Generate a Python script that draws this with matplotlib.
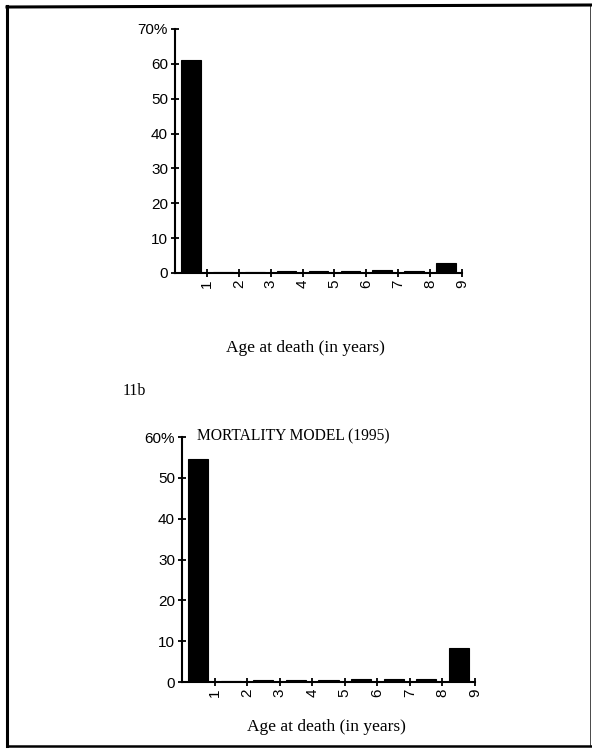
import numpy as np
import matplotlib
matplotlib.use("Agg")
import matplotlib.pyplot as plt
from matplotlib.lines import Line2D

# age categories (years) and share of deaths (%)
ages = ["1", "2", "3", "4", "5", "6", "7", "8", "9"]
deaths_top = [61.0, 0.4, 0.4, 0.5, 0.6, 0.7, 0.8, 0.5, 2.8]
deaths_bottom = [54.5, 0.3, 0.4, 0.5, 0.6, 0.7, 0.8, 0.8, 8.4]
yticks_top = [0, 10, 20, 30, 40, 50, 60, 70]
yticks_bottom = [0, 10, 20, 30, 40, 50, 60]

sans = "Liberation Sans"
serif = "Liberation Serif"

fig = plt.figure(figsize=(5.92, 7.49), dpi=100)


def draw_panel(rect, values, yticks):
    ax = fig.add_axes(rect)
    x = np.arange(len(ages)) + 0.5
    ax.bar(x, values, width=0.62, color="black", edgecolor="black", linewidth=0.8)
    ax.set_xlim(0, len(ages))
    ax.set_ylim(0, yticks[-1])
    ax.set_xticks(np.arange(1, len(ages) + 1))
    ax.set_xticklabels(ages, rotation=90, fontfamily=sans, fontsize=11)
    ax.set_yticks(yticks)
    ylabels = [str(v) for v in yticks]
    ylabels[-1] = ylabels[-1] + "%"
    ax.set_yticklabels(ylabels, fontfamily=sans, fontsize=11)
    for s in ["top", "right"]:
        ax.spines[s].set_visible(False)
    for s in ["left", "bottom"]:
        ax.spines[s].set_linewidth(1.5)
    ax.tick_params(direction="inout", length=6, width=1.3, pad=2)
    return ax


draw_panel([175 / 592, 1 - 273 / 749, 287 / 592, 244 / 749], deaths_top, yticks_top)
draw_panel([182 / 592, 1 - 682 / 749, 293 / 592, 245 / 749], deaths_bottom, yticks_bottom)

fig.text(305 / 592, 1 - 348 / 749, "Age at death (in years)", ha="center", va="center",
         fontfamily=serif, fontsize=12.5)
fig.text(123 / 592, 1 - 391 / 749, "11b", ha="left", va="center",
         fontfamily=serif, fontsize=11.5)
fig.text(293 / 592, 1 - 436 / 749, "MORTALITY MODEL (1995)", ha="center", va="center",
         fontfamily=serif, fontsize=11.2)
fig.text(326 / 592, 1 - 727 / 749, "Age at death (in years)", ha="center", va="center",
         fontfamily=serif, fontsize=12.5)

# page frame around the figure
fig.add_artist(Line2D([7 / 592, 7 / 592], [1 - 6 / 749, 1 - 746 / 749], color="black", lw=2.2))
fig.add_artist(Line2D([7 / 592, 1], [1 - 7 / 749, 1 - 5 / 749], color="black", lw=2.2))
fig.add_artist(Line2D([7 / 592, 1], [1 - 746 / 749, 1 - 746 / 749], color="black", lw=1.8))
fig.add_artist(Line2D([590 / 592, 590 / 592], [1 - 5 / 749, 1 - 746 / 749], color="black", lw=0.5))

fig.savefig("out.png", dpi=100)
